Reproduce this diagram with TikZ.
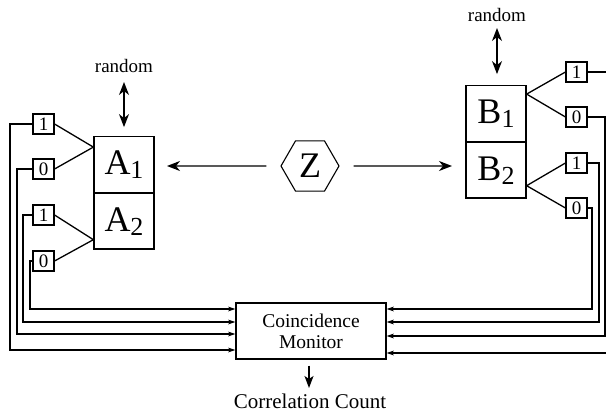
\documentclass[tikz,border=0pt]{standalone}
\usepackage{fontspec}
\setmainfont{Liberation Serif}
\usetikzlibrary{arrows.meta,shapes.geometric}
\begin{document}
\begin{tikzpicture}[x=1pt,y=-1pt,
  line width=1.3pt,
  bigbox/.style={draw,inner sep=0pt,minimum width=60pt,minimum height=55.5pt,font=\fontsize{36}{36}\selectfont},
  dbox/.style={draw,line width=1.1pt,inner sep=0pt,minimum width=21pt,minimum height=20pt,font=\fontsize{19}{19}\selectfont},
  wire/.style={line width=1.3pt,-{Stealth[length=7pt,width=4.5pt,inset=1.5pt]}},
  zarrow/.style={line width=1.3pt,-{Stealth[length=13pt,width=10pt,inset=4pt]}},
  dblarrow/.style={line width=1.3pt,{Stealth[length=13pt,width=10pt,inset=4pt]}-{Stealth[length=13pt,width=10pt,inset=4pt]}},
  downarrow/.style={line width=1.3pt,-{Stealth[length=12pt,width=9pt,inset=3pt]}},
  lbl/.style={font=\fontsize{19}{19}\selectfont,inner sep=0pt}
]
\useasboundingbox (0,0) rectangle (606,414);
\clip (0,0) rectangle (606,414);

% A detector
\node[bigbox] (A1) at (124,164.5) {A\raisebox{-4pt}{\fontsize{26}{26}\selectfont 1}};
\node[bigbox,anchor=north] (A2) at (A1.south) {A\raisebox{-4pt}{\fontsize{26}{26}\selectfont 2}};
% B detector
\node[bigbox] (B1) at (496,113.5) {B\raisebox{-4pt}{\fontsize{26}{26}\selectfont 1}};
\node[bigbox,anchor=north] (B2) at (B1.south) {B\raisebox{-4pt}{\fontsize{26}{26}\selectfont 2}};

% source
\node[draw,regular polygon,regular polygon sides=6,minimum size=58pt,inner sep=0pt,line width=1.1pt,font=\fontsize{36}{36}\selectfont] (Z) at (310,166) {Z};
\coordinate (zl) at (167,166);
\coordinate (zr) at (452,166);
\draw[zarrow] ([shift={(-14,0)}]Z.west) -- (zl);
\draw[zarrow] ([shift={(14,0)}]Z.east) -- (zr);

% random settings
\node[lbl,anchor=base] (rA) at (124,73) {random};
\node[lbl,anchor=base] (rB) at (497,22) {random};
\draw[dblarrow] ([shift={(0,9)}]rA.base) -- ([shift={(0,-9)}]A1.north);
\draw[dblarrow] ([shift={(0,6)}]rB.base) -- ([shift={(1,-11)}]B1.north);

% output boxes A
\node[dbox] (a11) at (43.5,124) {1};
\node[dbox] (a10) at (43.5,169) {0};
\node[dbox] (a21) at (43.5,215) {1};
\node[dbox] (a20) at (43.5,261) {0};
\coordinate (cA1) at ([shift={(0,11)}]A1.north west);
\coordinate (cA2) at ([shift={(0,-10)}]A2.south west);
\draw (a11.east) -- (cA1) -- (a10.east);
\draw (a21.east) -- (cA2) -- (a20.east);

% output boxes B
\node[dbox] (b11) at (576.5,72) {1};
\node[dbox] (b10) at (576.5,117) {0};
\node[dbox] (b21) at (576.5,163) {1};
\node[dbox] (b20) at (576.5,208) {0};
\coordinate (cB1) at ([shift={(0,9)}]B1.north east);
\coordinate (cB2) at ([shift={(0,-13)}]B2.south east);
\draw (b11.west) -- (cB1) -- (b10.west);
\draw (b21.west) -- (cB2) -- (b20.west);

% coincidence monitor
\node[draw,inner sep=0pt,minimum width=150pt,minimum height=56pt,align=center,
  font=\fontsize{19.5}{21}\selectfont] (M) at (311,331) {Coincidence\\Monitor};
\node[anchor=base,inner sep=0pt,font=\fontsize{21}{21}\selectfont] (CC) at (310,409) {Correlation Count};
\draw[downarrow] ([shift={(-2,6)}]M.south) -- ([shift={(-1,-21)}]CC.base);

% wires left
\draw[wire] (a11.west) -| (10,350) -- ([shift={(0,19)}]M.west);
\draw[wire] (a10.west) -| (17,334) -- ([shift={(0,3)}]M.west);
\draw[wire] (a21.west) -| (23,322) -- ([shift={(0,-9)}]M.west);
\draw[wire] (a20.west) -| (30,309) -- ([shift={(0,-22)}]M.west);
% wires right
\draw[wire] (b11.east) -| (625,353) -- ([shift={(0,22)}]M.east);
\draw[wire] (b10.east) -| (605,336) -- ([shift={(0,5)}]M.east);
\draw[wire] (b21.east) -| (599,322) -- ([shift={(0,-9)}]M.east);
\draw[wire] (b20.east) -| (592,309) -- ([shift={(0,-22)}]M.east);
\end{tikzpicture}
\end{document}
